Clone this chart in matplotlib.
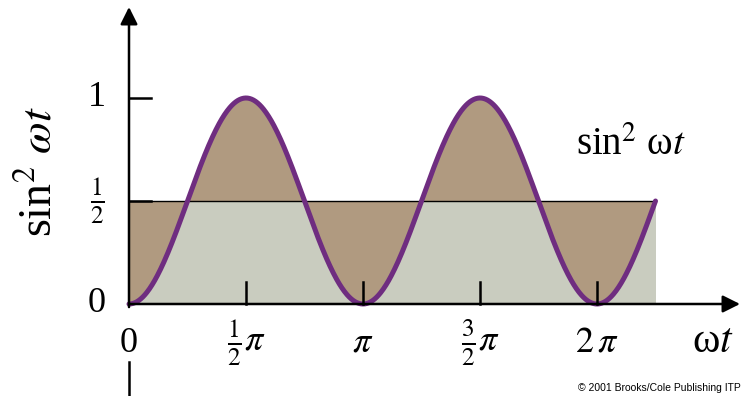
import numpy as np
import matplotlib.pyplot as plt
from matplotlib.patches import FancyArrowPatch

plt.rcParams['font.family'] = 'serif'
plt.rcParams['font.serif'] = ['Liberation Serif', 'DejaVu Serif']
plt.rcParams['mathtext.fontset'] = 'stix'

# curve: sin^2(wt) over a bit more than two periods, ending where it crosses its mean
wt_end = 2.25 * np.pi
mean_level = 0.5
wt = np.linspace(0, wt_end, 800)
curve = np.sin(wt) ** 2

# tick positions and labels
x_ticks = [0.5 * np.pi, np.pi, 1.5 * np.pi, 2 * np.pi]
x_labels = [r'$\frac{1}{2}\pi$', r'$\pi$', r'$\frac{3}{2}\pi$', r'$2\,\pi$']
y_ticks = [mean_level, 1.0]
y_labels = [r'$\frac{1}{2}$', '1']

purple = '#6f2d80'
brown = '#b09a80'
grey = '#c9ccbf'

fig = plt.figure(figsize=(7.47, 3.96), dpi=100)
ax = fig.add_axes([0, 0, 1, 1])
# pixel layout: origin at (129, 304), pi = 234 px, one unit = 206 px
px_pi, px_unit = 234.0, 206.0
ax.set_xlim(-129 / px_pi * np.pi, (747 - 129) / px_pi * np.pi)
ax.set_ylim((304 - 396) / px_unit, 304 / px_unit)
ax.axis('off')

# shaded areas
ax.fill_between(wt, 0, np.minimum(curve, mean_level), color=grey, lw=0)
ax.fill_between(wt, curve, mean_level, color=brown, lw=0)
ax.plot([0, wt_end], [mean_level, mean_level], color='black', lw=1.0)
ax.plot(wt, curve, color=purple, lw=3.6, solid_capstyle='round', zorder=4)

# axes with arrow heads
xa = FancyArrowPatch((0, 0), ((740 - 129) / px_pi * np.pi, 0), arrowstyle='-|>',
                     mutation_scale=26, lw=1.8, color='black', zorder=5,
                     shrinkA=0, shrinkB=0)
ya = FancyArrowPatch((0, -0.015), (0, (304 - 7) / px_unit), arrowstyle='-|>',
                     mutation_scale=26, lw=1.8, color='black', zorder=5,
                     shrinkA=0, shrinkB=0)
ax.add_patch(xa)
ax.add_patch(ya)
ax.plot([0, 0], [(304 - 362) / px_unit, (304 - 400) / px_unit], color='black', lw=1.8)

tick_h = 22 / px_unit
tick_w = 22 / px_pi * np.pi
for xt in x_ticks:
    ax.plot([xt, xt], [0, tick_h], color='black', lw=1.8, zorder=5)
for yt in y_ticks:
    ax.plot([0, tick_w], [yt, yt], color='black', lw=1.8, zorder=5)

# labels
lab_y = (304 - 343) / px_unit
ax.text(0, lab_y, '0', fontsize=26, ha='center', va='center')
for xt, lab in zip(x_ticks, x_labels):
    ax.text(xt, lab_y, lab, fontsize=26, ha='center', va='center')
lab_x = (97 - 129) / px_pi * np.pi
ax.text(lab_x, 0, '0', fontsize=26, ha='center', va='center')
for yt, lab in zip(y_ticks, y_labels):
    ax.text(lab_x, yt, lab, fontsize=26, ha='center', va='center')

ax.text((713 - 129) / px_pi * np.pi, (304 - 342) / px_unit, 'ω$t$',
        fontsize=30, ha='center', va='center')
ax.text((40 - 129) / px_pi * np.pi, (304 - 172) / px_unit, r'sin$^2$ $\omega t$',
        fontsize=33, ha='center', va='center', rotation=90)
ax.text((631 - 129) / px_pi * np.pi, (304 - 145) / px_unit, 'sin$^2$ ω$t$',
        fontsize=28, ha='center', va='center')

fig.text(741 / 747, 1 - 388 / 396, '© 2001 Brooks/Cole Publishing ITP',
         fontsize=7.5, family='Liberation Sans', ha='right', va='center')

fig.savefig('out.png', dpi=100)
